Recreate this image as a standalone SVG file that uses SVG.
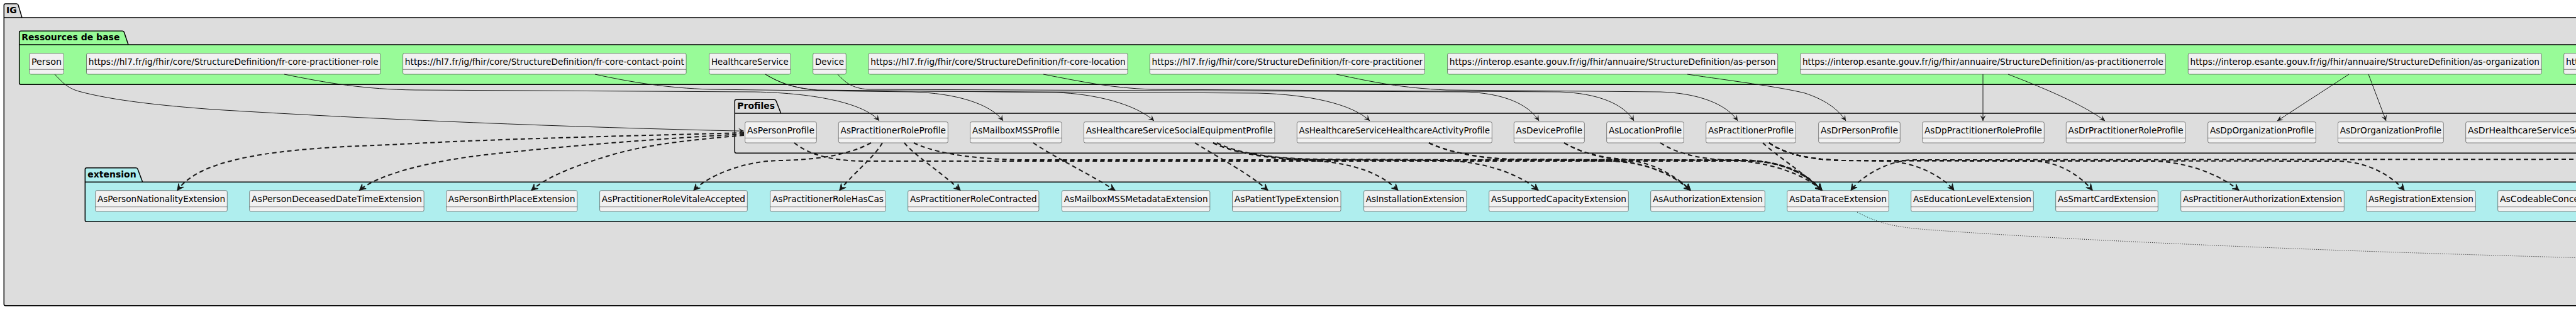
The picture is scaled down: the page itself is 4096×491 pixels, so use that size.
<svg xmlns="http://www.w3.org/2000/svg" width="4096" height="491" viewBox="0 0 4096 491">
<style>
.pkg{stroke:#000;stroke-width:1.5}
.ig{fill:#DDDDDD}.res{fill:#98FB98}.ext{fill:#AFEEEE}.prof{fill:#DDDDDD}
.plabel{font-family:"DejaVu Sans",sans-serif;font-size:14px;font-weight:bold;fill:#000}
.box{fill:#F1F1F1;stroke:#181818;stroke-width:0.5}
.dv{stroke:#181818;stroke-width:0.5}
.lbl{font-family:"DejaVu Sans",sans-serif;font-size:14px;fill:#000}
.e{fill:none;stroke:#181818;stroke-width:1;marker-end:url(#ah)}
.d{fill:none;stroke:#181818;stroke-width:2;stroke-dasharray:7,5;marker-end:url(#ahd)}
.o{fill:none;stroke:#181818;stroke-width:1;stroke-dasharray:1,2}
</style>
<defs>
<marker id="ah" viewBox="-10 -5 11 10" refX="0" refY="0" markerWidth="11" markerHeight="10" markerUnits="userSpaceOnUse" orient="auto"><path d="M0,0 L-9,-4.5 L-5,0 L-9,4.5 Z" fill="#181818"/></marker>
<marker id="ahd" viewBox="-12 -6 13 12" refX="0" refY="0" markerWidth="13" markerHeight="12" markerUnits="userSpaceOnUse" orient="auto"><path d="M0,0 L-10,-5 L-6,0 L-10,5 Z" fill="#181818" stroke="#181818" stroke-width="1" stroke-linejoin="miter"/></marker>
</defs>
<rect x="0" y="0" width="4096" height="491" fill="#FFFFFF"/>
<g id="pkg-IG">
<path class="pkg ig" d="M6.3,8.5 Q6.3,6 8.8,6 L26.3,6 Q28.3,6 29,8 L35,28 L4200,28 L4200,485.7 L8.8,485.7 Q6.3,485.7 6.3,483.2 Z"/>
<line class="pkg" x1="6.3" y1="28" x2="35" y2="28"/>
<text class="plabel" x="10" y="21">IG</text>
</g>
<g id="pkg-ressources">
<path class="pkg res" d="M30.7,51.8 Q30.7,49.3 33.2,49.3 L194.7,49.3 Q196.7,49.3 197.4,51.3 L204,71 L4200,71 L4200,134.3 L33.2,134.3 Q30.7,134.3 30.7,131.8 Z"/>
<line class="pkg" x1="30.7" y1="71" x2="204" y2="71"/>
<text class="plabel" x="34.3" y="64.3">Ressources de base</text>
</g>
<g id="pkg-profiles">
<path class="pkg prof" d="M1168.3,160.8 Q1168.3,158.3 1170.8,158.3 L1231.3,158.3 Q1233.3,158.3 1234,160.3 L1241.7,180 L4200,180 L4200,243.3 L1170.8,243.3 Q1168.3,243.3 1168.3,240.8 Z"/>
<line class="pkg" x1="1168.3" y1="180" x2="1241.7" y2="180"/>
<text class="plabel" x="1172.3" y="173.3">Profiles</text>
</g>
<g id="pkg-extension">
<path class="pkg ext" d="M135.3,269.2 Q135.3,266.7 137.8,266.7 L216.3,266.7 Q218.3,266.7 219,268.7 L226.7,289.3 L4200,289.3 L4200,352.3 L137.8,352.3 Q135.3,352.3 135.3,349.8 Z"/>
<line class="pkg" x1="135.3" y1="289.3" x2="226.7" y2="289.3"/>
<text class="plabel" x="139.3" y="281.7">extension</text>
</g>

<g id="n-Person"><rect class="box" x="46.7" y="84.7" width="54.6" height="33.3" rx="2.5"/><line class="dv" x1="46.7" y1="110.3" x2="101.3" y2="110.3"/><text class="lbl" x="74" y="102.7" text-anchor="middle" textLength="48.1" lengthAdjust="spacingAndGlyphs">Person</text></g>
<g id="n-fr-core-practitioner-role"><rect class="box" x="137.5" y="84.7" width="467.4" height="33.3" rx="2.5"/><line class="dv" x1="137.5" y1="110.3" x2="604.9" y2="110.3"/><text class="lbl" x="371.2" y="102.7" text-anchor="middle" textLength="460.9" lengthAdjust="spacingAndGlyphs">https://hl7.fr/ig/fhir/core/StructureDefinition/fr-core-practitioner-role</text></g>
<g id="n-fr-core-contact-point"><rect class="box" x="640.6" y="84.7" width="450.5" height="33.3" rx="2.5"/><line class="dv" x1="640.6" y1="110.3" x2="1091.1" y2="110.3"/><text class="lbl" x="865.85" y="102.7" text-anchor="middle" textLength="444" lengthAdjust="spacingAndGlyphs">https://hl7.fr/ig/fhir/core/StructureDefinition/fr-core-contact-point</text></g>
<g id="n-HealthcareService"><rect class="box" x="1127.7" y="84.7" width="129.3" height="33.3" rx="2.5"/><line class="dv" x1="1127.7" y1="110.3" x2="1257" y2="110.3"/><text class="lbl" x="1192.35" y="102.7" text-anchor="middle" textLength="122.8" lengthAdjust="spacingAndGlyphs">HealthcareService</text></g>
<g id="n-Device"><rect class="box" x="1292.7" y="84.7" width="52.6" height="33.3" rx="2.5"/><line class="dv" x1="1292.7" y1="110.3" x2="1345.3" y2="110.3"/><text class="lbl" x="1319" y="102.7" text-anchor="middle" textLength="46.1" lengthAdjust="spacingAndGlyphs">Device</text></g>
<g id="n-fr-core-location"><rect class="box" x="1381" y="84.7" width="412" height="33.3" rx="2.5"/><line class="dv" x1="1381" y1="110.3" x2="1793" y2="110.3"/><text class="lbl" x="1587" y="102.7" text-anchor="middle" textLength="405.5" lengthAdjust="spacingAndGlyphs">https://hl7.fr/ig/fhir/core/StructureDefinition/fr-core-location</text></g>
<g id="n-fr-core-practitioner"><rect class="box" x="1828.3" y="84.7" width="437.1" height="33.3" rx="2.5"/><line class="dv" x1="1828.3" y1="110.3" x2="2265.4" y2="110.3"/><text class="lbl" x="2046.85" y="102.7" text-anchor="middle" textLength="430.6" lengthAdjust="spacingAndGlyphs">https://hl7.fr/ig/fhir/core/StructureDefinition/fr-core-practitioner</text></g>
<g id="n-as-person"><rect class="box" x="2301.6" y="84.7" width="525.1" height="33.3" rx="2.5"/><line class="dv" x1="2301.6" y1="110.3" x2="2826.7" y2="110.3"/><text class="lbl" x="2564.15" y="102.7" text-anchor="middle" textLength="518.6" lengthAdjust="spacingAndGlyphs">https://interop.esante.gouv.fr/ig/fhir/annuaire/StructureDefinition/as-person</text></g>
<g id="n-as-practitionerrole"><rect class="box" x="2862.7" y="84.7" width="580.6" height="33.3" rx="2.5"/><line class="dv" x1="2862.7" y1="110.3" x2="3443.3" y2="110.3"/><text class="lbl" x="3153" y="102.7" text-anchor="middle" textLength="574.1" lengthAdjust="spacingAndGlyphs">https://interop.esante.gouv.fr/ig/fhir/annuaire/StructureDefinition/as-practitionerrole</text></g>
<g id="n-as-organization"><rect class="box" x="3479.3" y="84.7" width="562" height="33.3" rx="2.5"/><line class="dv" x1="3479.3" y1="110.3" x2="4041.3" y2="110.3"/><text class="lbl" x="3760.3" y="102.7" text-anchor="middle" textLength="555.5" lengthAdjust="spacingAndGlyphs">https://interop.esante.gouv.fr/ig/fhir/annuaire/StructureDefinition/as-organization</text></g>
<g id="n-base-next"><rect class="box" x="4076.7" y="84.7" width="300" height="33.3" rx="2.5"/><line class="dv" x1="4076.7" y1="110.3" x2="4376.7" y2="110.3"/><text class="lbl" x="4080" y="102.7">htt</text></g>

<g id="n-AsPersonProfile"><rect class="box" x="1184.7" y="193.7" width="113.6" height="33.3" rx="2.5"/><line class="dv" x1="1184.7" y1="219.3" x2="1298.3" y2="219.3"/><text class="lbl" x="1241.5" y="211.7" text-anchor="middle" textLength="107.1" lengthAdjust="spacingAndGlyphs">AsPersonProfile</text></g>
<g id="n-AsPractitionerRoleProfile"><rect class="box" x="1333.3" y="193.7" width="174" height="33.3" rx="2.5"/><line class="dv" x1="1333.3" y1="219.3" x2="1507.3" y2="219.3"/><text class="lbl" x="1420.3" y="211.7" text-anchor="middle" textLength="167.5" lengthAdjust="spacingAndGlyphs">AsPractitionerRoleProfile</text></g>
<g id="n-AsMailboxMSSProfile"><rect class="box" x="1542.7" y="193.7" width="145.4" height="33.3" rx="2.5"/><line class="dv" x1="1542.7" y1="219.3" x2="1688.1" y2="219.3"/><text class="lbl" x="1615.4" y="211.7" text-anchor="middle" textLength="138.9" lengthAdjust="spacingAndGlyphs">AsMailboxMSSProfile</text></g>
<g id="n-AsHealthcareServiceSocialEquipmentProfile"><rect class="box" x="1723.4" y="193.7" width="303.5" height="33.3" rx="2.5"/><line class="dv" x1="1723.4" y1="219.3" x2="2026.9" y2="219.3"/><text class="lbl" x="1875.15" y="211.7" text-anchor="middle" textLength="297" lengthAdjust="spacingAndGlyphs">AsHealthcareServiceSocialEquipmentProfile</text></g>
<g id="n-AsHealthcareServiceHealthcareActivityProfile"><rect class="box" x="2062.3" y="193.7" width="310" height="33.3" rx="2.5"/><line class="dv" x1="2062.3" y1="219.3" x2="2372.3" y2="219.3"/><text class="lbl" x="2217.3" y="211.7" text-anchor="middle" textLength="303.5" lengthAdjust="spacingAndGlyphs">AsHealthcareServiceHealthcareActivityProfile</text></g>
<g id="n-AsDeviceProfile"><rect class="box" x="2407.3" y="193.7" width="112" height="33.3" rx="2.5"/><line class="dv" x1="2407.3" y1="219.3" x2="2519.3" y2="219.3"/><text class="lbl" x="2463.3" y="211.7" text-anchor="middle" textLength="105.5" lengthAdjust="spacingAndGlyphs">AsDeviceProfile</text></g>
<g id="n-AsLocationProfile"><rect class="box" x="2554.7" y="193.7" width="122.6" height="33.3" rx="2.5"/><line class="dv" x1="2554.7" y1="219.3" x2="2677.3" y2="219.3"/><text class="lbl" x="2616" y="211.7" text-anchor="middle" textLength="116.1" lengthAdjust="spacingAndGlyphs">AsLocationProfile</text></g>
<g id="n-AsPractitionerProfile"><rect class="box" x="2712.7" y="193.7" width="142.6" height="33.3" rx="2.5"/><line class="dv" x1="2712.7" y1="219.3" x2="2855.3" y2="219.3"/><text class="lbl" x="2784" y="211.7" text-anchor="middle" textLength="136.1" lengthAdjust="spacingAndGlyphs">AsPractitionerProfile</text></g>
<g id="n-AsDrPersonProfile"><rect class="box" x="2891.7" y="193.7" width="129.6" height="33.3" rx="2.5"/><line class="dv" x1="2891.7" y1="219.3" x2="3021.3" y2="219.3"/><text class="lbl" x="2956.5" y="211.7" text-anchor="middle" textLength="123.1" lengthAdjust="spacingAndGlyphs">AsDrPersonProfile</text></g>
<g id="n-AsDpPractitionerRoleProfile"><rect class="box" x="3056.7" y="193.7" width="193.6" height="33.3" rx="2.5"/><line class="dv" x1="3056.7" y1="219.3" x2="3250.3" y2="219.3"/><text class="lbl" x="3153.5" y="211.7" text-anchor="middle" textLength="187.1" lengthAdjust="spacingAndGlyphs">AsDpPractitionerRoleProfile</text></g>
<g id="n-AsDrPractitionerRoleProfile"><rect class="box" x="3285.3" y="193.7" width="189.7" height="33.3" rx="2.5"/><line class="dv" x1="3285.3" y1="219.3" x2="3475" y2="219.3"/><text class="lbl" x="3380.15" y="211.7" text-anchor="middle" textLength="183.2" lengthAdjust="spacingAndGlyphs">AsDrPractitionerRoleProfile</text></g>
<g id="n-AsDpOrganizationProfile"><rect class="box" x="3510.7" y="193.7" width="171.6" height="33.3" rx="2.5"/><line class="dv" x1="3510.7" y1="219.3" x2="3682.3" y2="219.3"/><text class="lbl" x="3596.5" y="211.7" text-anchor="middle" textLength="165.1" lengthAdjust="spacingAndGlyphs">AsDpOrganizationProfile</text></g>
<g id="n-AsDrOrganizationProfile"><rect class="box" x="3717.5" y="193.7" width="167.8" height="33.3" rx="2.5"/><line class="dv" x1="3717.5" y1="219.3" x2="3885.3" y2="219.3"/><text class="lbl" x="3801.4" y="211.7" text-anchor="middle" textLength="161.3" lengthAdjust="spacingAndGlyphs">AsDrOrganizationProfile</text></g>
<g id="n-AsDrHealthcareServiceSo"><rect class="box" x="3920.7" y="193.7" width="400" height="33.3" rx="2.5"/><line class="dv" x1="3920.7" y1="219.3" x2="4320.7" y2="219.3"/><text class="lbl" x="3924" y="211.7">AsDrHealthcareServiceSo</text></g>

<g id="n-AsPersonNationalityExtension"><rect class="box" x="151.7" y="302.7" width="209.6" height="33.3" rx="2.5"/><line class="dv" x1="151.7" y1="328.7" x2="361.3" y2="328.7"/><text class="lbl" x="256.5" y="320.7" text-anchor="middle" textLength="203.1" lengthAdjust="spacingAndGlyphs">AsPersonNationalityExtension</text></g>
<g id="n-AsPersonDeceasedDateTimeExtension"><rect class="box" x="396.7" y="302.7" width="277.4" height="33.3" rx="2.5"/><line class="dv" x1="396.7" y1="328.7" x2="674.1" y2="328.7"/><text class="lbl" x="535.4" y="320.7" text-anchor="middle" textLength="270.9" lengthAdjust="spacingAndGlyphs">AsPersonDeceasedDateTimeExtension</text></g>
<g id="n-AsPersonBirthPlaceExtension"><rect class="box" x="709.5" y="302.7" width="208.4" height="33.3" rx="2.5"/><line class="dv" x1="709.5" y1="328.7" x2="917.9" y2="328.7"/><text class="lbl" x="813.7" y="320.7" text-anchor="middle" textLength="201.9" lengthAdjust="spacingAndGlyphs">AsPersonBirthPlaceExtension</text></g>
<g id="n-AsPractitionerRoleVitaleAccepted"><rect class="box" x="953.6" y="302.7" width="234.7" height="33.3" rx="2.5"/><line class="dv" x1="953.6" y1="328.7" x2="1188.3" y2="328.7"/><text class="lbl" x="1070.95" y="320.7" text-anchor="middle" textLength="228.2" lengthAdjust="spacingAndGlyphs">AsPractitionerRoleVitaleAccepted</text></g>
<g id="n-AsPractitionerRoleHasCas"><rect class="box" x="1224.7" y="302.7" width="183.6" height="33.3" rx="2.5"/><line class="dv" x1="1224.7" y1="328.7" x2="1408.3" y2="328.7"/><text class="lbl" x="1316.5" y="320.7" text-anchor="middle" textLength="177.1" lengthAdjust="spacingAndGlyphs">AsPractitionerRoleHasCas</text></g>
<g id="n-AsPractitionerRoleContracted"><rect class="box" x="1443.7" y="302.7" width="208.2" height="33.3" rx="2.5"/><line class="dv" x1="1443.7" y1="328.7" x2="1651.9" y2="328.7"/><text class="lbl" x="1547.8" y="320.7" text-anchor="middle" textLength="201.7" lengthAdjust="spacingAndGlyphs">AsPractitionerRoleContracted</text></g>
<g id="n-AsMailboxMSSMetadataExtension"><rect class="box" x="1688.5" y="302.7" width="235.3" height="33.3" rx="2.5"/><line class="dv" x1="1688.5" y1="328.7" x2="1923.8" y2="328.7"/><text class="lbl" x="1806.15" y="320.7" text-anchor="middle" textLength="228.8" lengthAdjust="spacingAndGlyphs">AsMailboxMSSMetadataExtension</text></g>
<g id="n-AsPatientTypeExtension"><rect class="box" x="1959.5" y="302.7" width="172.5" height="33.3" rx="2.5"/><line class="dv" x1="1959.5" y1="328.7" x2="2132" y2="328.7"/><text class="lbl" x="2045.75" y="320.7" text-anchor="middle" textLength="166" lengthAdjust="spacingAndGlyphs">AsPatientTypeExtension</text></g>
<g id="n-AsInstallationExtension"><rect class="box" x="2168.6" y="302.7" width="163.3" height="33.3" rx="2.5"/><line class="dv" x1="2168.6" y1="328.7" x2="2331.9" y2="328.7"/><text class="lbl" x="2250.25" y="320.7" text-anchor="middle" textLength="156.8" lengthAdjust="spacingAndGlyphs">AsInstallationExtension</text></g>
<g id="n-AsSupportedCapacityExtension"><rect class="box" x="2367.7" y="302.7" width="221.6" height="33.3" rx="2.5"/><line class="dv" x1="2367.7" y1="328.7" x2="2589.3" y2="328.7"/><text class="lbl" x="2478.5" y="320.7" text-anchor="middle" textLength="215.1" lengthAdjust="spacingAndGlyphs">AsSupportedCapacityExtension</text></g>
<g id="n-AsAuthorizationExtension"><rect class="box" x="2624.7" y="302.7" width="181.6" height="33.3" rx="2.5"/><line class="dv" x1="2624.7" y1="328.7" x2="2806.3" y2="328.7"/><text class="lbl" x="2715.5" y="320.7" text-anchor="middle" textLength="175.1" lengthAdjust="spacingAndGlyphs">AsAuthorizationExtension</text></g>
<g id="n-AsDataTraceExtension"><rect class="box" x="2841.7" y="302.7" width="161.6" height="33.3" rx="2.5"/><line class="dv" x1="2841.7" y1="328.7" x2="3003.3" y2="328.7"/><text class="lbl" x="2922.5" y="320.7" text-anchor="middle" textLength="155.1" lengthAdjust="spacingAndGlyphs">AsDataTraceExtension</text></g>
<g id="n-AsEducationLevelExtension"><rect class="box" x="3038.7" y="302.7" width="194.6" height="33.3" rx="2.5"/><line class="dv" x1="3038.7" y1="328.7" x2="3233.3" y2="328.7"/><text class="lbl" x="3136" y="320.7" text-anchor="middle" textLength="188.1" lengthAdjust="spacingAndGlyphs">AsEducationLevelExtension</text></g>
<g id="n-AsSmartCardExtension"><rect class="box" x="3268.7" y="302.7" width="162.6" height="33.3" rx="2.5"/><line class="dv" x1="3268.7" y1="328.7" x2="3431.3" y2="328.7"/><text class="lbl" x="3350" y="320.7" text-anchor="middle" textLength="156.1" lengthAdjust="spacingAndGlyphs">AsSmartCardExtension</text></g>
<g id="n-AsPractitionerAuthorizationExtension"><rect class="box" x="3467.7" y="302.7" width="259.6" height="33.3" rx="2.5"/><line class="dv" x1="3467.7" y1="328.7" x2="3727.3" y2="328.7"/><text class="lbl" x="3597.5" y="320.7" text-anchor="middle" textLength="253.1" lengthAdjust="spacingAndGlyphs">AsPractitionerAuthorizationExtension</text></g>
<g id="n-AsRegistrationExtension"><rect class="box" x="3762.7" y="302.7" width="173.6" height="33.3" rx="2.5"/><line class="dv" x1="3762.7" y1="328.7" x2="3936.3" y2="328.7"/><text class="lbl" x="3849.5" y="320.7" text-anchor="middle" textLength="167.1" lengthAdjust="spacingAndGlyphs">AsRegistrationExtension</text></g>
<g id="n-AsCodeableConce"><rect class="box" x="3971.7" y="302.7" width="400" height="33.3" rx="2.5"/><line class="dv" x1="3971.7" y1="328.7" x2="4371.7" y2="328.7"/><text class="lbl" x="3975" y="320.7">AsCodeableConce</text></g>

<g id="connectors">
<path class="e" d="M87,118 C100,132 108,140 125,145 C180,160 260,168 340,174 C600,190 900,202 1183,208.3"/>
<path class="e" d="M452,118 C520,132 580,142 660,143 L1200,146 C1300,148 1375,165 1398,192"/>
<path class="e" d="M946,118 C1000,130 1060,140 1130,142 L1450,146 C1520,148 1575,165 1595,192"/>
<path class="e" d="M1217,118 C1240,132 1262,140 1300,143 L1680,147 C1740,149 1805,165 1835,192"/>
<path class="e" d="M1217,118 C1240,132 1265,141 1305,144 L2000,148 C2080,150 2150,165 2178,192"/>
<path class="e" d="M1332,118 C1345,132 1355,140 1380,142 L2330,146 C2390,148 2430,165 2447,192"/>
<path class="e" d="M1659,118 C1720,130 1770,140 1830,142 L2480,146 C2540,148 2582,165 2598,192"/>
<path class="e" d="M2125,118 C2180,130 2230,140 2300,143 L2640,146 C2700,148 2745,165 2763,192"/>
<path class="e" d="M2683,118 C2750,128 2830,138 2870,148 C2900,158 2922,172 2935,192"/>
<path class="e" d="M3153,118 L3153,192"/>
<path class="e" d="M3193,118 C3250,140 3310,165 3347,192"/>
<path class="e" d="M3735,118 L3621,192"/>
<path class="e" d="M3766,118 L3794,192"/>

<path class="d" d="M1183,211 C1000,216 800,220 620,230 C440,236 320,250 282,302.5"/>
<path class="d" d="M1183,213 C1050,220 900,232 780,245 C680,256 600,278 571.4,302.5"/>
<path class="d" d="M1183,215 C1100,222 1020,230 960,250 C900,268 865,285 845,302.5"/>
<path class="d" d="M1263,227 C1285,245 1320,255 1370,256 L2780,256 C2840,257 2875,280 2897,302.5"/>
<path class="d" d="M1385,227 C1350,246 1300,254 1240,255 C1180,256 1125,280 1103,302.5"/>
<path class="d" d="M1403,227 C1390,250 1360,272 1335,302.5"/>
<path class="d" d="M1438,227 C1455,248 1495,272 1527,302.5"/>
<path class="d" d="M1453,227 C1480,240 1530,252 1620,254 L2770,254 C2840,256 2875,280 2897,302.5"/>
<path class="d" d="M1643,227 C1680,252 1730,275 1773,302.5"/>
<path class="d" d="M1900,227 C1940,252 1985,275 2016,302.5"/>
<path class="d" d="M1929,227 C1960,242 2010,252 2080,255 C2160,258 2200,280 2223,302.5"/>
<path class="d" d="M1929,227 C1960,242 2010,252 2100,254 L2300,255 C2370,258 2420,280 2446,302.5"/>
<path class="d" d="M1935,227 C1965,242 2015,252 2100,253 L2560,255 C2620,257 2665,280 2688,302.5"/>
<path class="d" d="M2272,227 C2300,240 2340,250 2400,253 L2560,256 C2625,258 2665,282 2688,302.5"/>
<path class="d" d="M2272,227 C2300,240 2340,250 2400,253 L2780,255 C2840,257 2875,280 2897,302.5"/>
<path class="d" d="M2487,227 C2510,240 2540,252 2590,255 C2630,258 2668,282 2688,302.5"/>
<path class="d" d="M2487,227 C2510,240 2540,252 2600,254 L2780,255 C2845,257 2877,280 2897,302.5"/>
<path class="d" d="M2640,227 C2660,240 2690,251 2740,254 C2820,256 2872,280 2897,302.5"/>
<path class="d" d="M2803,227 C2825,248 2865,272 2897,302.5"/>
<path class="d" d="M2813,227 C2835,242 2865,253 2930,255 L3000,256 C3050,258 3090,282 3107,302.5"/>
<path class="d" d="M2813,227 C2835,242 2865,253 2930,255 L3240,256 C3280,260 3310,282 3327,302.5"/>
<path class="d" d="M2813,227 C2835,242 2865,253 2930,255 L3430,256 C3490,260 3535,282 3560,302.5"/>
<path class="d" d="M2813,227 C2835,242 2865,253 2930,255 L3720,256 C3770,258 3805,282 3823,302.5"/>
<path class="d" d="M4200,253 L3040,254 C3000,256 2960,280 2943,302.5"/>

<path class="o" d="M2953,337 C2990,357 3020,362 3080,366 C3300,382 3700,400 4200,412"/>
</g>
</svg>
